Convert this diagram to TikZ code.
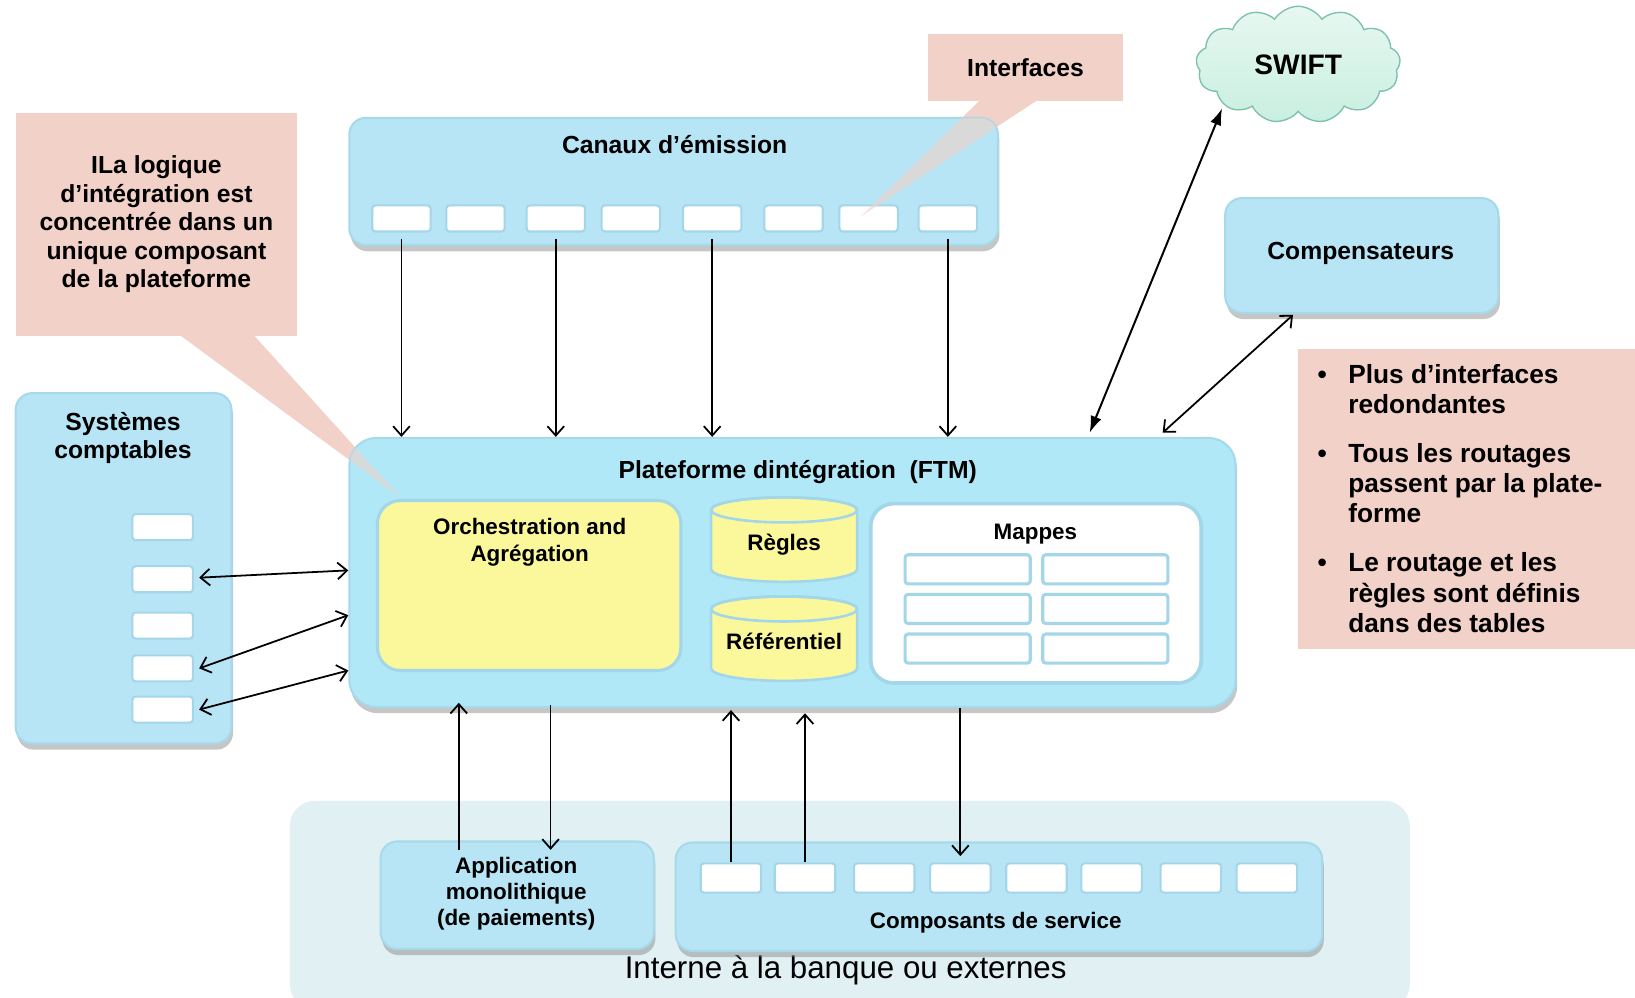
\documentclass[tikz,border=0pt]{standalone}
\usepackage{fontspec}
\setmainfont{Liberation Sans}
\usetikzlibrary{shapes.symbols,shadows,arrows.meta,calc}
\definecolor{boxblue}{HTML}{B7E5F5}
\definecolor{boxedge}{HTML}{A6D9EA}
\definecolor{platblue}{HTML}{B0E8F8}
\definecolor{pinkc}{HTML}{F2D2C8}
\definecolor{yel}{HTML}{FBF89C}
\definecolor{regbg}{HTML}{E1F0F3}
\definecolor{cloudf}{HTML}{C9EFE0}
\definecolor{cloude}{HTML}{7CC0AE}
\definecolor{smalledge}{HTML}{A3D6E8}
\newcommand{\myfs}[2]{\fontsize{#1}{#2}\selectfont}
\begin{document}
\begin{tikzpicture}[x=1pt,y=-1pt,
  bluebox/.style={rounded corners=16pt, fill=boxblue, draw=boxedge, line width=2pt, inner sep=0pt,
    drop shadow={shadow xshift=1.5pt, shadow yshift=-6pt, opacity=.45}},
  wb/.style={rounded corners=3pt, fill=white, draw=smalledge, line width=2pt, inner sep=0pt},
  cb/.style={wb, minimum width=56pt, minimum height=25pt},
  callbox/.style={fill=pinkc, inner sep=0pt},
  lbl/.style={font=\bfseries\myfs{23.7}{27.3}, align=center, inner sep=0pt},
  slbl/.style={font=\bfseries\myfs{21.5}{25}, align=center, inner sep=0pt},
  arr/.style={-{Straight Barb[length=9pt,width=16pt]}, line width=1.7pt},
  darr/.style={{Straight Barb[length=9pt,width=16pt]}-{Straight Barb[length=9pt,width=16pt]}, line width=1.7pt},
  larr/.style={{Latex[length=16pt,width=11pt]}-{Latex[length=16pt,width=11pt]}, line width=1.9pt},
  cyl/.style={fill=yel, draw=smalledge, line width=2.5pt},
]
\useasboundingbox (0,0) rectangle (1568,957);

% bottom region
\node[fill=regbg, rounded corners=24pt, minimum width=1074pt, minimum height=200pt, inner sep=0pt] (region) at (815,868) {};
\node[font=\myfs{30}{34}, inner sep=0pt] (regionlbl) at (811,930) {Interne à la banque ou externes};

% left callout
\fill[pinkc] (172,321) -- (385,478) -- (243,321) -- cycle;
\node[callbox, minimum width=270pt, minimum height=214pt] (callL) at (150,215) {};
\node[lbl] (callLtxt) at (150,215) {ILa logique\\d’intégration est\\concentrée dans un\\unique composant\\de la plateforme};

% interfaces callout
\fill[pinkc] (940,96) -- (825,208) -- (995,96) -- cycle;
\node[callbox, minimum width=187pt, minimum height=64pt] (callI) at (983.5,65) {};
\node[lbl] (callItxt) at (983.5,65) {Interfaces};

% Canaux d'emission
\node[bluebox, minimum width=622pt, minimum height=122pt] (canaux) at (646,174) {};
\node[lbl] (canauxlbl) at (647,139) {Canaux d’émission};
\foreach \i/\x in {1/385,2/456,3/533,4/605,5/683,6/761,7/833,8/909}
  \node[cb] (c\i) at (\x,209.5) {};
\begin{scope}
  \clip[rounded corners=16pt] (335,113) rectangle (957,235);
  \fill[pinkc, opacity=.6] (940,96) -- (825,208) -- (995,96) -- cycle;
\end{scope}

% SWIFT
\node[cloud, cloud puffs=13, cloud puff arc=115, aspect=1.7, draw=cloude, line width=1.3pt,
  top color=cloudf!45!white, bottom color=cloudf, minimum width=196pt, minimum height=112pt,
  inner sep=0pt, font=\bfseries\myfs{27}{31}] (swift) at (1245,62) {SWIFT};

% Compensateurs
\node[bluebox, minimum width=262pt, minimum height=110pt] (comp) at (1306,245) {};
\node[lbl] (complbl) at (1305,243) {Compensateurs};

% bullets
\node[callbox, minimum width=323pt, minimum height=287pt] (bul) at (1406.5,478.5) {};
\node[anchor=north west, inner sep=0pt, font=\bfseries\myfs{25.2}{29}, align=left] (bultxt) at (1263.5,347) {%
\begin{tabular}{@{}l@{\hspace{20.5pt}}l@{}}
•& Plus d’interfaces\\
 & redondantes\\[18pt]
•& Tous les routages\\
 & passent par la plate-\\
 & forme\\[18pt]
•& Le routage et les\\
 & règles sont définis\\
 & dans des tables
\end{tabular}};

% Systemes comptables
\node[bluebox, minimum width=207pt, minimum height=336pt] (sys) at (118.5,545) {};
\node[lbl] (syslbl) at (118,420) {Systèmes\\comptables};
\foreach \i/\y in {1/505.5,2/555.5,3/600,4/641,5/680.5}
  \node[wb, minimum width=58pt, minimum height=25pt] (s\i) at (156,\y) {};

% Plateforme
\node[bluebox, fill=platblue, rounded corners=26pt, minimum width=850pt, minimum height=258pt] (plat) at (760,549) {};
\node[lbl] (platlbl) at (765,453) {Plateforme dintégration\ \ (FTM)};
\node[fill=yel, draw=smalledge, line width=3pt, rounded corners=22pt, minimum width=291pt, minimum height=163pt, inner sep=0pt] (orch) at (507.5,561.5) {};
\node[slbl] (orchlbl) at (508,520) {Orchestration and\\Agrégation};

% cylinders
\path[cyl] (682,489) -- (682,546) arc[start angle=180, end angle=0, x radius=70, y radius=12]
  -- (822,489) arc[start angle=0, end angle=-180, x radius=70, y radius=12] -- cycle;
\draw[smalledge, line width=2.5pt] (752,489) ellipse[x radius=70, y radius=12];
\node[slbl] (regles) at (752,522) {Règles};
\path[cyl] (682,584) -- (682,641) arc[start angle=180, end angle=0, x radius=70, y radius=12]
  -- (822,584) arc[start angle=0, end angle=-180, x radius=70, y radius=12] -- cycle;
\draw[smalledge, line width=2.5pt] (752,584) ellipse[x radius=70, y radius=12];
\node[slbl] (referentiel) at (752,615) {Référentiel};

% Mappes
\node[fill=white, draw=smalledge, line width=3.5pt, rounded corners=22pt, minimum width=317pt, minimum height=172pt, inner sep=0pt] (mappes) at (993.5,569) {};
\node[slbl] (mappeslbl) at (993,512) {Mappes};
\foreach \r/\y in {1/546,2/584,3/622}
  \foreach \c/\x in {1/928,2/1060}
    \node[wb, line width=3pt, minimum width=120pt, minimum height=28pt] (m\r\c) at (\x,\y) {};

% callout wedge over the platform
\begin{scope}
  \clip[rounded corners=26pt] (335,420) rectangle (1185,678);
  \fill[pinkc, opacity=.6] (172,321) -- (385,478) -- (243,321) -- cycle;
\end{scope}

% Application
\node[bluebox, minimum width=262pt, minimum height=103pt] (app) at (496,858.5) {};
\node[slbl] (applbl) at (495,857) {Application\\monolithique\\(de paiements)};

% Composants de service
\node[bluebox, minimum width=620pt, minimum height=104pt] (comps) at (958,860) {};
\node[slbl] (compslbl) at (955,885) {Composants de service};
\foreach \i/\x in {1/701,2/772,3/848,4/921,5/994,6/1066,7/1142,8/1215}
  \node[cb, minimum width=58pt, minimum height=28pt] (k\i) at (\x,842) {};

% connectors: Canaux -> Plateforme
\foreach \i in {1,3,5,8}
  \draw[arr] ([yshift=-6pt]c\i.south) -- (c\i.south |- plat.north);

% SWIFT and Compensateurs
\coordinate (swA) at (1045,415);
\coordinate (swB) at (1172,104);
\draw[larr] (swA) -- (swB);
\coordinate (cpA) at (1115,415);
\coordinate (cpB) at (1240,302);
\draw[darr] (cpA) -- (cpB);

% Systemes comptables <-> Plateforme
\draw[darr] ([xshift=5pt,yshift=1.5pt]s2.east) -- (plat.west |- 0,547);
\draw[darr] ([xshift=5pt]s4.east) -- (plat.west |- 0,590);
\draw[darr] ([xshift=5pt]s5.east) -- (plat.west |- 0,643);

% Plateforme <-> bottom
\draw[arr] ([xshift=-56pt,yshift=-9pt]app.north) -- ([xshift=-56pt,yshift=5pt]app.north |- plat.south);
\draw[arr] ([xshift=32pt,yshift=3pt]app.north |- plat.south) -- ([xshift=32pt,yshift=-9pt]app.north);
\draw[arr] (k1.north) -- ([yshift=-2pt]k1.north |- plat.south);
\draw[arr] (k2.north) -- ([yshift=-5pt]k2.north |- plat.south);
\draw[arr] (k4.north |- plat.south) -- ([yshift=6pt]k4.north);
\end{tikzpicture}
\end{document}
